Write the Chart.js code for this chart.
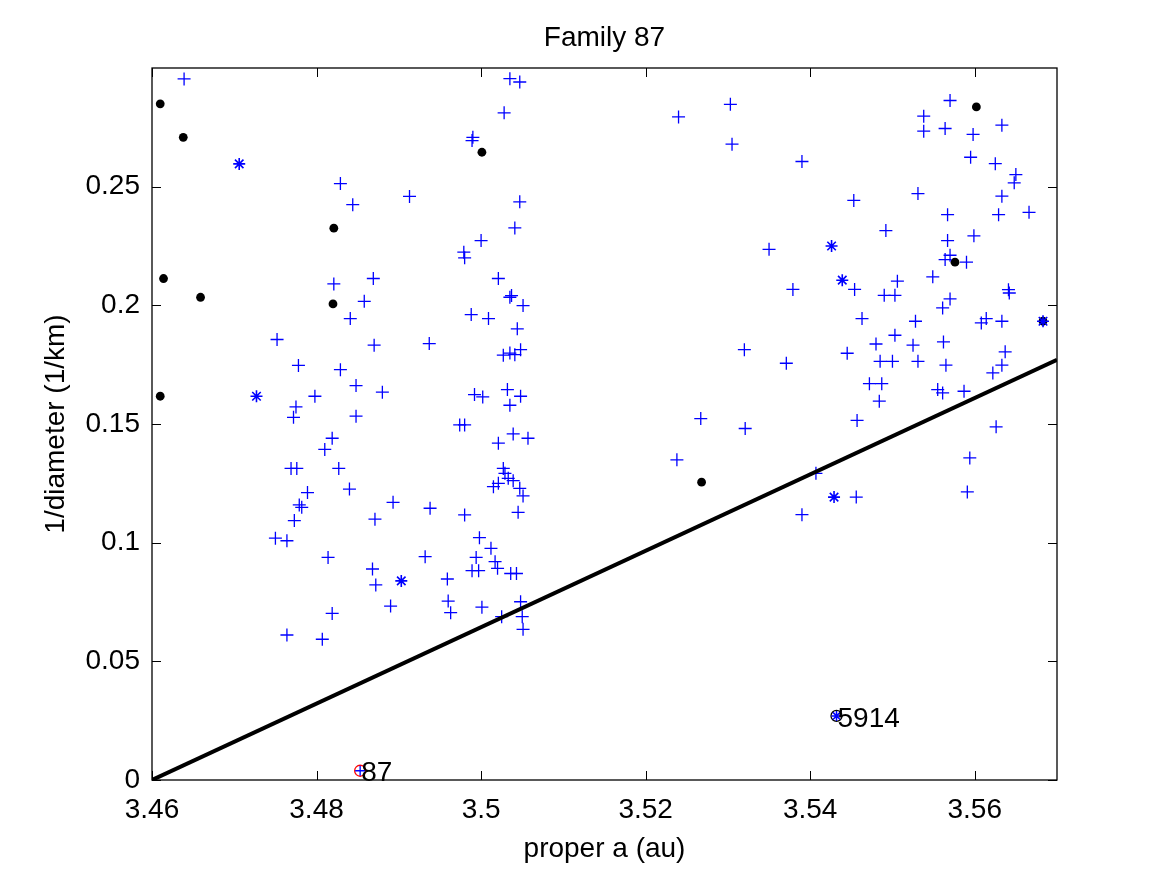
<!DOCTYPE html>
<html>
<head>
<meta charset="utf-8">
<script src="https://cdn.jsdelivr.net/npm/chart.js@4.4.1/dist/chart.umd.min.js"></script>
<style>
  html, body { margin: 0; padding: 0; background: #fff; }
  #wrap { width: 1169px; height: 878px; }
</style>
</head>
<body>
<div id="wrap"><canvas id="c" width="1169" height="878"></canvas></div>
<script>
// ---------- data ----------
const titleText = "Family 87";
const xLabel = "proper a (au)";
const yLabel = "1/diameter (1/km)";
const xTicks = [3.46, 3.48, 3.50, 3.52, 3.54, 3.56];
const yTicks = [0, 0.05, 0.10, 0.15, 0.20, 0.25];
const xRange = [3.46, 3.57];
const yRange = [0, 0.3];

// family members (blue +)
const plusX = [
  3.4639,3.4829,3.4844,3.4821,3.4752,3.4778,3.4829,3.4798,3.4775,3.4772,
  3.4819,3.4810,3.4769,3.4776,3.4827,3.4840,3.4789,3.4779,3.4782,3.4773,3.4750,3.4764,3.4814,3.4819,3.4764,3.4807,
  3.5035,3.5047,3.5028,3.4990,3.4989,3.4913,3.5047,3.5041,3.5000,3.4979,3.4980,3.4869,3.5021,3.5037,3.5035,3.4858,
  3.5051,3.4841,3.4988,3.5009,3.5044,3.4870,3.4937,3.5027,3.5035,3.5041,3.5048,3.4848,3.4880,3.4992,3.5002,3.5032,
  3.5048,3.5035,3.4848,3.4974,3.4980,
  3.5039,3.5057,3.5021,3.5027,3.5029,3.5033,3.5039,3.5021,3.5015,3.5047,3.5051,3.4893,3.4938,3.4980,3.5045,3.4871,
  3.4998,3.5012,3.4932,3.4994,3.5017,3.4868,3.4989,3.4997,3.5020,3.5036,3.5043,3.4959,3.4872,3.4960,3.4963,3.4890,
  3.5001,3.5048,3.5025,3.5050,3.5051,
  3.5240,3.5303,3.5305,3.5390,3.5453,3.5350,3.5379,3.5454,3.5320,3.5371,3.5445,3.5267,3.5321,3.5457,3.5238,3.5407,
  3.5456,3.5390,
  3.5570,3.5538,3.5538,3.5564,3.5598,3.5633,3.5595,3.5625,3.5650,3.5648,3.5531,3.5633,3.5567,3.5629,3.5666,3.5492,
  3.5567,3.5599,3.5570,3.5564,3.5590,3.5549,3.5506,3.5490,3.5503,3.5570,3.5561,3.5641,3.5642,3.5463,3.5528,3.5608,
  3.5614,3.5633,3.5503,3.5480,3.5525,3.5562,3.5637,3.5485,3.5500,3.5531,3.5565,3.5633,3.5622,3.5472,3.5487,3.5555,
  3.5561,3.5587,3.5484,3.5626,3.5594,3.5591
];
const plusY = [
  0.2954,0.2513,0.2424,0.2090,0.1856,0.1747,0.1729,0.1617,0.1572,0.1528,
  0.1440,0.1393,0.1313,0.1313,0.1313,0.1226,0.1211,0.1159,0.1149,0.1093,0.1019,0.1008,0.0938,0.0702,0.0611,0.0593,
  0.2955,0.2941,0.2811,0.2708,0.2694,0.2459,0.2436,0.2326,0.2273,0.2224,0.2200,0.2113,0.2113,0.2041,0.2034,0.2017,
  0.1999,0.1944,0.1961,0.1944,0.1901,0.1832,0.1839,0.1790,0.1799,0.1792,0.1813,0.1662,0.1634,0.1624,0.1614,0.1645,
  0.1617,0.1579,0.1533,0.1496,0.1496,
  0.1458,0.1440,0.1419,0.1313,0.1292,0.1271,0.1261,0.1250,0.1236,0.1229,0.1197,0.1170,0.1145,0.1117,0.1128,0.1099,
  0.1021,0.0976,0.0941,0.0938,0.0920,0.0889,0.0882,0.0882,0.0892,0.0870,0.0870,0.0847,0.0822,0.0754,0.0705,0.0733,
  0.0728,0.0751,0.0688,0.0688,0.0635,
  0.2794,0.2847,0.2679,0.2606,0.2442,0.2236,0.2067,0.2067,0.1813,0.1756,0.1798,0.1523,0.1481,0.1515,0.1349,0.1292,
  0.1192,0.1118,
  0.2863,0.2797,0.2734,0.2745,0.2720,0.2759,0.2624,0.2597,0.2551,0.2516,0.2471,0.2460,0.2382,0.2382,0.2392,0.2315,
  0.2273,0.2293,0.2211,0.2193,0.2182,0.2120,0.2102,0.2042,0.2042,0.2027,0.1989,0.2066,0.2052,0.1944,0.1933,0.1926,
  0.1944,0.1933,0.1874,0.1837,0.1832,0.1846,0.1804,0.1764,0.1764,0.1764,0.1748,0.1748,0.1715,0.1670,0.1670,0.1645,
  0.1631,0.1638,0.1596,0.1488,0.1357,0.1214
];

// blue asterisks
const starX = [3.4706, 3.4727, 3.4903, 3.5426, 3.5439, 3.5429, 3.5683];
const starY = [0.2596, 0.1617, 0.0839, 0.2250, 0.2106, 0.1192, 0.1933];

// black dots
const dotX = [3.4610, 3.4638, 3.4821, 3.4614, 3.4659, 3.4820, 3.4610, 3.5001, 3.5268, 3.5602, 3.5576, 3.5683];
const dotY = [0.2849, 0.2708, 0.2325, 0.2113, 0.2034, 0.2006, 0.1617, 0.2645, 0.1255, 0.2836, 0.2182, 0.1933];

// labelled bodies
const namedLabels = ["87", "5914"];
const namedX = [3.4853, 3.5432];
const namedY = [0.0039, 0.0270];

// boundary line
const lineX = [3.46, 3.57];
const lineY = [0.0, 0.177];

const zip = (xs, ys) => xs.map((x, i) => ({ x: x, y: ys[i] }));

const FONT = "'Liberation Sans', Arial, Helvetica, sans-serif";
const FS = 28;
const BLUE = "#0000ff";

const decor = {
  id: "decor",
  afterDraw(chart) {
    const { ctx, chartArea: a, scales } = chart;
    const xs = scales.x, ys = scales.y;
    ctx.save();
    // box
    ctx.strokeStyle = "#000";
    ctx.lineWidth = 1.3;
    ctx.strokeRect(a.left, a.top, a.right - a.left, a.bottom - a.top);
    // inward ticks on all four sides
    const tl = 9;
    ctx.beginPath();
    xTicks.forEach(v => {
      const p = Math.round(xs.getPixelForValue(v)) + 0.5;
      ctx.moveTo(p, a.bottom); ctx.lineTo(p, a.bottom - tl);
      ctx.moveTo(p, a.top); ctx.lineTo(p, a.top + tl);
    });
    yTicks.forEach(v => {
      const p = Math.round(ys.getPixelForValue(v)) + 0.5;
      ctx.moveTo(a.left, p); ctx.lineTo(a.left + tl, p);
      ctx.moveTo(a.right, p); ctx.lineTo(a.right - tl, p);
    });
    ctx.lineWidth = 1;
    ctx.stroke();
    // point labels
    ctx.fillStyle = "#000";
    ctx.font = FS + "px " + FONT;
    ctx.textAlign = "left";
    ctx.textBaseline = "middle";
    namedLabels.forEach((t, i) => {
      ctx.fillText(t, xs.getPixelForValue(namedX[i]) + 1, ys.getPixelForValue(namedY[i]) + 3);
    });
    // titles
    const cx = (a.left + a.right) / 2;
    ctx.textAlign = "center";
    ctx.textBaseline = "middle";
    ctx.fillText(titleText, cx, 38);
    ctx.fillText(xLabel, cx, 849);
    ctx.save();
    ctx.translate(56, (a.top + a.bottom) / 2);
    ctx.rotate(-Math.PI / 2);
    ctx.fillText(yLabel, 0, 0);
    ctx.restore();
    ctx.restore();
  }
};

const fmt = v => String(Number(v.toFixed(2)));

new Chart(document.getElementById("c"), {
  type: "scatter",
  data: {
    datasets: [
      { label: "line", data: zip(lineX, lineY), showLine: true, borderColor: "#000", borderWidth: 4,
        pointRadius: 0, pointHoverRadius: 0, order: 1 },
      { label: "dots", data: zip(dotX, dotY), pointStyle: "circle", pointRadius: 4.4,
        backgroundColor: "#000", borderColor: "#000", borderWidth: 0, order: 5 },
      { label: "plus", data: zip(plusX, plusY), pointStyle: "cross", pointRadius: 6.5,
        borderColor: BLUE, borderWidth: 1.3, order: 4 },
      { label: "star", data: zip(starX, starY), pointStyle: "star", pointRadius: 6,
        borderColor: BLUE, borderWidth: 1.6, order: 3 },
      { label: "87", data: [{ x: namedX[0], y: namedY[0] }], pointStyle: "circle", pointRadius: 5.5,
        backgroundColor: "rgba(0,0,0,0)", borderColor: "#ff0000", borderWidth: 1.3, order: 2 },
      { label: "87p", data: [{ x: namedX[0], y: namedY[0] }], pointStyle: "cross", pointRadius: 5,
        borderColor: BLUE, borderWidth: 1.3, order: 0 },
      { label: "5914", data: [{ x: namedX[1], y: namedY[1] }], pointStyle: "circle", pointRadius: 5.5,
        backgroundColor: "rgba(0,0,0,0)", borderColor: "#000", borderWidth: 1.3, order: 2 },
      { label: "5914s", data: [{ x: namedX[1], y: namedY[1] }], pointStyle: "star", pointRadius: 5,
        borderColor: BLUE, borderWidth: 1.5, order: 0 }
    ]
  },
  options: {
    responsive: false,
    animation: false,
    events: [],
    layout: { padding: { left: 0, top: 68, right: 112, bottom: 0 } },
    plugins: { legend: { display: false }, tooltip: { enabled: false }, title: { display: false } },
    scales: {
      x: {
        type: "linear", min: xRange[0], max: xRange[1],
        afterBuildTicks: s => { s.ticks = xTicks.map(v => ({ value: v })); },
        afterFit: s => { s.height = 98; },
        grid: { display: false, drawTicks: false },
        border: { display: false },
        ticks: { callback: fmt, color: "#000", font: { family: FONT, size: FS }, padding: 13, maxRotation: 0, autoSkip: false }
      },
      y: {
        type: "linear", min: yRange[0], max: yRange[1],
        afterBuildTicks: s => { s.ticks = yTicks.map(v => ({ value: v })); },
        afterFit: s => { s.width = 152; },
        grid: { display: false, drawTicks: false },
        border: { display: false },
        ticks: { callback: fmt, color: "#000", font: { family: FONT, size: FS }, padding: 12, autoSkip: false }
      }
    }
  },
  plugins: [decor]
});
</script>
</body>
</html>
